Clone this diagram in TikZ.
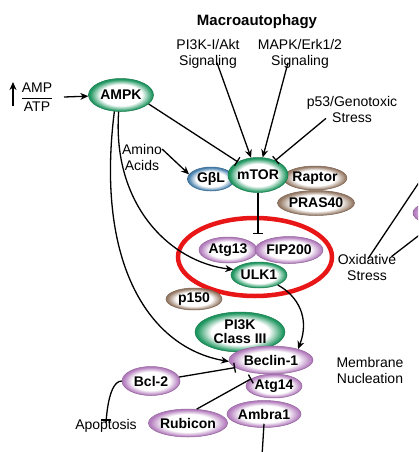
\documentclass[tikz,border=0pt]{standalone}
\usepackage{fontspec}
\setmainfont{Liberation Sans}
\usetikzlibrary{shapes.geometric,arrows.meta}

\definecolor{cstgreen}{RGB}{30,150,95}
\definecolor{cstpurple}{RGB}{180,125,190}
\definecolor{cstbrown}{RGB}{150,122,102}
\definecolor{cstblue}{RGB}{70,128,172}
\definecolor{cstred}{RGB}{232,22,22}

\pgfdeclareradialshading{greenrim}{\pgfpoint{0bp}{0bp}}{color(0bp)=(white); color(16bp)=(white); color(24bp)=(cstgreen); color(50bp)=(cstgreen)}
\pgfdeclareradialshading{purplerim}{\pgfpoint{0bp}{0bp}}{color(0bp)=(white); color(16bp)=(white); color(24bp)=(cstpurple); color(50bp)=(cstpurple)}
\pgfdeclareradialshading{brownrim}{\pgfpoint{0bp}{0bp}}{color(0bp)=(white); color(16bp)=(white); color(24bp)=(cstbrown); color(50bp)=(cstbrown)}
\pgfdeclareradialshading{bluerim}{\pgfpoint{0bp}{0bp}}{color(0bp)=(white); color(16bp)=(white); color(24bp)=(cstblue); color(50bp)=(cstblue)}

\tikzset{
  prot/.style={ellipse, inner sep=0pt, line width=0.5pt, font=\fontsize{14}{15}\selectfont\bfseries, align=center},
  greenprot/.style={prot, draw=cstgreen!80!black, shading=greenrim},
  purpleprot/.style={prot, draw=cstpurple!80!black, shading=purplerim},
  brownprot/.style={prot, draw=cstbrown!80!black, shading=brownrim},
  blueprot/.style={prot, draw=cstblue!80!black, shading=bluerim},
  lbl/.style={inner sep=0pt, align=center, font=\fontsize{14}{16}\selectfont},
  act/.style={line width=1.3pt, -{Stealth[length=8pt,width=7pt]}},
  inh/.style={line width=1.3pt, -{Bar[width=10pt,line width=1.3pt]}},
  plain/.style={line width=1.3pt}
}

\begin{document}
\begin{tikzpicture}[x=1pt,y=1pt,yscale=-1,xscale=1]
\clip (0,0) rectangle (418,452);

% labels
\node[lbl, font=\fontsize{15}{17}\selectfont\bfseries] (title) at (257,22) {Macroautophagy};
\node[lbl] (akt) at (208,54) {PI3K-I/Akt\\Signaling};
\node[lbl] (mapk) at (300,54) {MAPK/Erk1/2\\Signaling};
\node[lbl] (p53) at (352,109) {p53/Genotoxic\\Stress};
\node[lbl] (amino) at (142,157) {Amino\\Acids};
\node[lbl] (oxid) at (367,267) {Oxidative\\Stress};
\node[lbl] (memb) at (370,370) {Membrane\\Nucleation};
\node[lbl] (apop) at (106,426) {Apoptosis};
\node[lbl] (ampatp) at (37,97) {$\displaystyle\frac{\mbox{AMP}}{\mbox{ATP}}$};

% complex ring
\node[ellipse, draw=cstred, line width=4.5pt, minimum width=154pt, minimum height=78pt] (ulkcx) at (255,257) {};

% proteins
\node[greenprot, minimum width=65pt, minimum height=33pt] (ampk) at (121,95) {AMPK};
\node[brownprot, minimum width=76pt, minimum height=25pt] (pras) at (316,203) {PRAS40};
\node[brownprot, minimum width=56pt, minimum height=24pt] (raptor) at (315,178) {Raptor};
\node[blueprot, minimum width=47pt, minimum height=24pt] (gbl) at (211,179) {GβL};
\node[greenprot, minimum width=60pt, minimum height=35pt] (mtor) at (258,175) {mTOR};
\node[purpleprot, minimum width=58pt, minimum height=26pt] (atg13) at (228,250) {Atg13};
\node[purpleprot, minimum width=68pt, minimum height=27pt] (fip) at (289,250) {FIP200};
\node[greenprot, minimum width=56pt, minimum height=26pt] (ulk1) at (259,275) {ULK1};
\node[brownprot, minimum width=56pt, minimum height=22pt] (p150) at (194,299) {p150};
\node[greenprot, minimum width=90pt, minimum height=40pt, font=\fontsize{14}{14}\selectfont\bfseries] (pi3k) at (240,332) {PI3K\\Class III};
\node[purpleprot, minimum width=74pt, minimum height=27pt] (ambra) at (264,414) {Ambra1};
\node[purpleprot, minimum width=56pt, minimum height=24pt] (atg14) at (274,386) {Atg14};
\node[purpleprot, minimum width=84pt, minimum height=28pt] (beclin) at (271,360) {Beclin-1};
\node[purpleprot, minimum width=58pt, minimum height=29pt] (bcl2) at (151,381) {Bcl-2};
\node[purpleprot, minimum width=78pt, minimum height=28pt] (rubicon) at (188,423) {Rubicon};
\node[purpleprot, minimum width=70pt, minimum height=27pt] (offnode) at (448,213) {};

\coordinate (ampup) at (13,106);
\coordinate (ampupend) at (13,82);
\coordinate (ulkin) at (258,234);
\coordinate (oxout) at (428,169);
\coordinate (ambraout) at (262,456);

% connectors
\draw[act] (ampup) -- (ampupend);
\draw[act] ([xshift=27pt]ampatp.center) -- (ampk);
\draw[inh] (ampk.-18) -- (mtor);
\draw[act] ([xshift=9pt,yshift=-6pt]akt.south) -- (mtor.112);
\draw[act] ([xshift=-12pt,yshift=-6pt]mapk.south) -- (mtor.75);
\draw[inh] ([xshift=-26pt,yshift=-4pt]p53.south) -- (mtor.40);
\draw[act] ([yshift=-8pt]amino.east) -- (gbl.168);
\draw[inh] (mtor) -- (ulkin);
\draw[act] (ampk.-98) .. controls (112,205) and (170,262) .. (ulk1.168);
\draw[act] (ampk.-112) .. controls (95,265) and (150,348) .. (beclin.182);
\draw[act] (ulk1.-28) .. controls (298,296) and (310,318) .. (beclin.22);
\draw[inh] (bcl2.8) -- (beclin.192);
\draw[inh] (rubicon.58) -- (atg14.162);
\draw[inh] (bcl2.west) to[out=180,in=90] (apop.north);
\draw[plain] ([yshift=-4pt]ambra.south) -- (ambraout);
\draw[plain] ([xshift=1pt,yshift=5pt]oxid.north) -- (oxout);
\draw[act] ([xshift=-5pt,yshift=3pt]oxid.north east) -- (offnode);
\end{tikzpicture}
\end{document}
